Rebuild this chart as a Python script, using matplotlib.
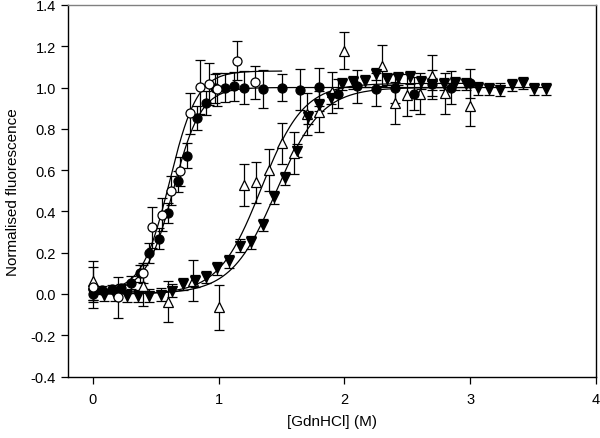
import numpy as np
import matplotlib
matplotlib.use("Agg")
import matplotlib.pyplot as plt

plt.rcParams['font.family'] = ['Liberation Sans', 'DejaVu Sans']

# Open circles
oc_x = [0.0, 0.2, 0.4, 0.47, 0.55, 0.62, 0.69, 0.77, 0.85, 0.92, 0.99, 1.15, 1.29]
oc_y = [0.032, -0.017, 0.102, 0.323, 0.383, 0.50, 0.594, 0.875, 1.004, 1.017, 0.991, 1.13, 1.025]
oc_e = [0.10, 0.10, 0.05, 0.10, 0.08, 0.07, 0.07, 0.10, 0.13, 0.10, 0.08, 0.095, 0.08]

# Filled circles
fc_x = [0.0, 0.075, 0.15, 0.225, 0.3, 0.375, 0.45, 0.525, 0.6, 0.675, 0.75, 0.825, 0.9,
        0.975, 1.05, 1.125, 1.2, 1.35, 1.5, 1.65, 1.8, 1.95, 2.1, 2.25, 2.4, 2.55, 2.7, 2.85, 3.0]
fc_y = [0.0, 0.019, 0.024, 0.029, 0.055, 0.10, 0.199, 0.268, 0.393, 0.546, 0.67, 0.852, 0.925,
        0.996, 1.0, 1.007, 0.999, 0.993, 1.0, 0.99, 1.002, 0.969, 1.006, 0.991, 0.996, 0.97, 1.015, 1.0, 1.02]
fc_e = [0.03, 0.02, 0.02, 0.02, 0.03, 0.04, 0.05, 0.05, 0.05, 0.05, 0.06, 0.06, 0.06,
        0.07, 0.07, 0.07, 0.08, 0.09, 0.065, 0.10, 0.093, 0.07, 0.08, 0.08, 0.07, 0.08, 0.07, 0.08, 0.07]

# Open triangles (up)
ot_x = [0.0, 0.4, 0.6, 0.8, 1.0, 1.2, 1.3, 1.4, 1.5, 1.6, 1.7, 1.8, 1.9, 2.0, 2.3, 2.4, 2.5, 2.6, 2.7, 2.8, 3.0]
ot_y = [0.062, 0.04, -0.037, 0.064, -0.065, 0.528, 0.541, 0.60, 0.73, 0.683, 0.872, 0.883, 0.977, 1.178,
        1.106, 0.925, 0.964, 0.97, 1.057, 0.972, 0.912]
ot_e = [0.10, 0.10, 0.10, 0.10, 0.11, 0.10, 0.10, 0.10, 0.10, 0.10, 0.10, 0.10, 0.10, 0.09,
        0.10, 0.10, 0.10, 0.10, 0.10, 0.10, 0.10]

# Filled triangles (down)
ft_x = [0.0, 0.09, 0.18, 0.27, 0.36, 0.45, 0.54, 0.63, 0.72, 0.81, 0.9, 0.99, 1.08, 1.17, 1.26,
        1.35, 1.44, 1.53, 1.62, 1.71, 1.8, 1.89, 1.98, 2.07, 2.16, 2.25, 2.34, 2.43, 2.52, 2.61,
        2.7, 2.79, 2.88, 2.97, 3.06, 3.15, 3.24, 3.33, 3.42, 3.51, 3.6]
ft_y = [0.0, -0.005, -0.005, -0.01, -0.01, -0.008, -0.003, 0.016, 0.048, 0.064, 0.081, 0.124, 0.158,
        0.234, 0.25, 0.334, 0.468, 0.56, 0.694, 0.855, 0.915, 0.949, 1.017, 1.025, 1.033, 1.065,
        1.041, 1.044, 1.049, 1.025, 1.017, 1.017, 1.02, 1.017, 0.996, 0.993, 0.99, 1.012, 1.022,
        0.993, 0.993]
ft_e = [0.03] * len(ft_x)

# Sigmoid fit parameters: baseline, plateau, midpoint, width, x-range
fit_oc = dict(a=0.01, b=1.08, c=0.61, w=0.11, x0=0.0, x1=1.5)
fit_fc = dict(a=0.01, b=1.00, c=0.64, w=0.11, x0=0.0, x1=3.0)
fit_ot = dict(a=0.0, b=1.02, c=1.338, w=0.169, x0=0.0, x1=3.0)
fit_ft = dict(a=0.0, b=1.00, c=1.46, w=0.18, x0=0.0, x1=3.6)


def sigmoid(p):
    xs = np.linspace(p['x0'], p['x1'], 300)
    ys = p['a'] + (p['b'] - p['a']) / (1 + np.exp(-(xs - p['c']) / p['w']))
    return xs, ys


fig = plt.figure(figsize=(6.0, 4.39), dpi=100)
ax = fig.add_axes([0.1128, 0.14, 0.8805, 0.8465])

for p in (fit_oc, fit_fc, fit_ot, fit_ft):
    xs, ys = sigmoid(p)
    ax.plot(xs, ys, color='black', lw=0.9, zorder=2)

eb_kw = dict(ecolor='black', elinewidth=0.9, capsize=3.5, capthick=0.9, linestyle='none', zorder=3)

ax.errorbar(ot_x, ot_y, yerr=ot_e, marker='^', ms=7.5, mfc='white', mec='black', mew=0.9, **eb_kw)
ax.errorbar(ft_x, ft_y, yerr=ft_e, marker='v', ms=7.5, mfc='black', mec='black', mew=0.9, **eb_kw)
ax.errorbar(fc_x, fc_y, yerr=fc_e, marker='o', ms=6.5, mfc='black', mec='black', mew=0.9, **eb_kw)
ax.errorbar(oc_x, oc_y, yerr=oc_e, marker='o', ms=6.5, mfc='white', mec='black', mew=0.9, **eb_kw)

ax.set_xlim(-0.2, 4.0)
ax.set_ylim(-0.4, 1.4)
ax.set_xticks([0, 1, 2, 3, 4])
ax.set_yticks(np.round(np.arange(-0.4, 1.41, 0.2), 1))
ax.yaxis.set_major_formatter(matplotlib.ticker.FormatStrFormatter('%.1f'))
ax.tick_params(direction='out', length=5, width=0.9, labelsize=10.5, colors='black')
ax.tick_params(axis='x', pad=6)
for s in ('left', 'bottom', 'right'):
    ax.spines[s].set_color('black')
    ax.spines[s].set_linewidth(1.0)
ax.spines['top'].set_color('#808080')
ax.spines['top'].set_linewidth(1.0)

ax.set_xlabel('[GdnHCl] (M)', fontsize=11, labelpad=6)
ax.set_ylabel('Normalised fluorescence', fontsize=11, labelpad=8)

fig.savefig('out.png', dpi=100)
